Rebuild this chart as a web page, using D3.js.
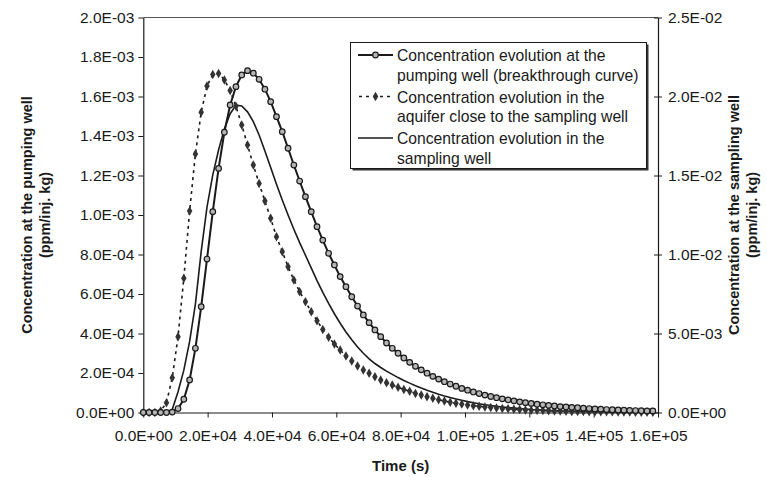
<!DOCTYPE html>
<html>
<head>
<meta charset="utf-8">
<script src="https://cdn.jsdelivr.net/npm/d3@7"></script>
<style>
    body { margin: 0; background: #fff; }
    svg { font-family: "Liberation Sans", Arial, sans-serif; }
</style>
</head>
<body>
<svg id="chart"></svg>
<script>
// time (s), one point every half hour
const timeS = [0, 1800, 3600, 5400, 7200, 9000, 10800, 12600, 14400, 16200,
    18000, 19800, 21600, 23400, 25200, 27000, 28800, 30600, 32400, 34200,
    36000, 37800, 39600, 41400, 43200, 45000, 46800, 48600, 50400, 52200,
    54000, 55800, 57600, 59400, 61200, 63000, 64800, 66600, 68400, 70200,
    72000, 73800, 75600, 77400, 79200, 81000, 82800, 84600, 86400, 88200,
    90000, 91800, 93600, 95400, 97200, 99000, 100800, 102600, 104400, 106200,
    108000, 109800, 111600, 113400, 115200, 117000, 118800, 120600, 122400, 124200,
    126000, 127800, 129600, 131400, 133200, 135000, 136800, 138600, 140400, 142200,
    144000, 145800, 147600, 149400, 151200, 153000, 154800, 156600, 158400];

// concentrations, in 1E-03 ppm/inj. kg
// pumping well -> left axis
const pumpingWell = [0, 0, 0, 0, 0, 0.002, 0.02, 0.067, 0.165, 0.325,
    0.536, 0.777, 1.017, 1.236, 1.419, 1.557, 1.65, 1.709, 1.731, 1.718,
    1.687, 1.637, 1.574, 1.498, 1.422, 1.338, 1.253, 1.172, 1.093, 1.017,
    0.941, 0.873, 0.806, 0.747, 0.688, 0.637, 0.586, 0.539, 0.494, 0.455,
    0.418, 0.384, 0.352, 0.325, 0.300, 0.276, 0.254, 0.234, 0.216, 0.199,
    0.183, 0.169, 0.156, 0.144, 0.133, 0.122, 0.113, 0.104, 0.096, 0.088,
    0.081, 0.075, 0.069, 0.064, 0.059, 0.054, 0.050, 0.046, 0.042, 0.039,
    0.036, 0.033, 0.030, 0.028, 0.026, 0.024, 0.022, 0.020, 0.018, 0.017,
    0.015, 0.014, 0.013, 0.012, 0.011, 0.010, 0.009, 0.008, 0.008];

// aquifer close to the sampling well -> right axis
const aquiferNearWell = [0, 0, 0, 0.1, 0.62, 2.2, 4.8, 8.5, 12.75, 16.36,
    19.0, 20.66, 21.4, 21.46, 21.05, 20.38, 19.38, 18.2, 16.93, 15.66,
    14.5, 13.38, 12.29, 11.13, 10.18, 9.23, 8.39, 7.65, 7.01, 6.38,
    5.81, 5.26, 4.76, 4.34, 3.95, 3.58, 3.26, 2.94, 2.69, 2.48,
    2.26, 2.06, 1.89, 1.74, 1.60, 1.46, 1.34, 1.21, 1.11, 1.00,
    0.90, 0.80, 0.73, 0.65, 0.59, 0.53, 0.48, 0.43, 0.39, 0.35,
    0.31, 0.28, 0.25, 0.23, 0.20, 0.19, 0.16, 0.15, 0.14, 0.13,
    0.11, 0.10, 0.09, 0.08, 0.07, 0.07, 0.06, 0.05, 0.05, 0.04,
    0.04, 0.04, 0.03, 0.03, 0.03, 0.02, 0.02, 0.02, 0.02];

// sampling well -> right axis
const samplingWell = [0, 0, 0, 0, 0, 0.19, 1.31, 2.68, 4.50, 6.86,
    10.2, 13.0, 15.04, 16.61, 17.95, 18.91, 19.46, 19.40, 19.03, 18.41,
    17.56, 16.55, 15.5, 14.45, 13.45, 12.5, 11.6, 10.75, 9.95, 9.15,
    8.35, 7.6, 6.9, 6.25, 5.65, 5.1, 4.6, 4.15, 3.75, 3.4,
    3.1, 2.85, 2.62, 2.41, 2.21, 2.03, 1.86, 1.70, 1.55, 1.41,
    1.28, 1.16, 1.05, 0.95, 0.86, 0.77, 0.69, 0.62, 0.55, 0.49,
    0.44, 0.39, 0.35, 0.31, 0.28, 0.25, 0.22, 0.19, 0.17, 0.15,
    0.13, 0.12, 0.10, 0.09, 0.08, 0.07, 0.06, 0.06, 0.05, 0.05,
    0.04, 0.04, 0.03, 0.03, 0.03, 0.02, 0.02, 0.02, 0.01];

const xTicks = [0, 20000, 40000, 60000, 80000, 100000, 120000, 140000, 160000];
const xTickLabels = ["0.0E+00", "2.0E+04", "4.0E+04", "6.0E+04", "8.0E+04",
    "1.0E+05", "1.2E+05", "1.4E+05", "1.6E+05"];
const yLeftTicks = [0, 0.2, 0.4, 0.6, 0.8, 1.0, 1.2, 1.4, 1.6, 1.8, 2.0];
const yLeftTickLabels = ["0.0E+00", "2.0E-04", "4.0E-04", "6.0E-04", "8.0E-04",
    "1.0E-03", "1.2E-03", "1.4E-03", "1.6E-03", "1.8E-03", "2.0E-03"];
const yRightTicks = [0, 5, 10, 15, 20, 25];
const yRightTickLabels = ["0.0E+00", "5.0E-03", "1.0E-02", "1.5E-02", "2.0E-02", "2.5E-02"];

const legendLabels = [
    ["Concentration evolution at the", "pumping well (breakthrough curve)"],
    ["Concentration evolution in the", "aquifer close to the sampling well"],
    ["Concentration evolution in the", "sampling well"]
];

const ink = "#1a1a1a";
const W = 767, H = 477;
const plot = { left: 143.3, right: 658, top: 17.5, bottom: 412.5 };

const svg = d3.select("#chart").attr("width", W).attr("height", H);
svg.append("rect").attr("width", W).attr("height", H).attr("fill", "#fff");

const x = d3.scaleLinear().domain([0, 160000]).range([plot.left, plot.right]);
const yL = d3.scaleLinear().domain([0, 2.0]).range([plot.bottom, plot.top]);
const yR = d3.scaleLinear().domain([0, 25]).range([plot.bottom, plot.top]);

const rows = timeS.map((t, i) => ({
    t: t, pump: pumpingWell[i], aq: aquiferNearWell[i], samp: samplingWell[i]
}));

//рамка области построения (верх)
svg.append("line")
    .attr("x1", plot.left).attr("x2", plot.right)
    .attr("y1", plot.top).attr("y2", plot.top)
    .attr("stroke", "#555").attr("stroke-width", 1);

//ось ox
const gx = svg.append("g")
    .attr("transform", `translate(0,${plot.bottom})`)
    .call(d3.axisBottom(x).tickValues(xTicks)
        .tickFormat((d, i) => xTickLabels[i]).tickSize(5).tickSizeOuter(0).tickPadding(12));

//ось oy слева
const gyl = svg.append("g")
    .attr("transform", `translate(${plot.left},0)`)
    .call(d3.axisLeft(yL).tickValues(yLeftTicks)
        .tickFormat((d, i) => yLeftTickLabels[i]).tickSize(5).tickSizeOuter(0).tickPadding(4));

//ось oy справа
const gyr = svg.append("g")
    .attr("transform", `translate(${plot.right},0)`)
    .call(d3.axisRight(yR).tickValues(yRightTicks)
        .tickFormat((d, i) => yRightTickLabels[i]).tickSize(4).tickSizeOuter(0).tickPadding(6));
gyr.selectAll(".tick line").attr("x1", -4);

[gx, gyl, gyr].forEach(g => {
    g.select(".domain").attr("stroke", ink).attr("stroke-width", 1.2);
    g.selectAll(".tick line").attr("stroke", ink);
    g.selectAll("text").style("font-size", "15.5px").style("fill", ink)
        .style("font-family", "'Liberation Sans', Arial, sans-serif");
});

//подписи осей
svg.append("text")
    .attr("x", (plot.left + plot.right) / 2).attr("y", 471)
    .attr("text-anchor", "middle")
    .style("font-size", "15px").style("font-weight", "bold").style("fill", ink)
    .text("Time (s)");

function axisTitle(cx, lines) {
    lines.forEach((s, i) => {
        svg.append("text")
            .attr("transform", `translate(${cx[i]},${(plot.top + plot.bottom) / 2}) rotate(-90)`)
            .attr("text-anchor", "middle")
            .attr("dy", "0.35em")
            .style("font-size", "14.5px").style("font-weight", "bold").style("fill", ink)
            .text(s);
    });
}
axisTitle([27, 45], ["Concentration at the pumping well", "(ppm/inj. kg)"]);
axisTitle([734, 752], ["Concentration at the sampling well", "(ppm/inj. kg)"]);

//кривые
const linePump = d3.line().x(d => x(d.t)).y(d => yL(d.pump));
const lineAq = d3.line().x(d => x(d.t)).y(d => yR(d.aq));
const lineSamp = d3.line().x(d => x(d.t)).y(d => yR(d.samp));

svg.append("path").datum(rows).attr("d", linePump)
    .attr("fill", "none").attr("stroke", ink).attr("stroke-width", 2);
svg.append("path").datum(rows).attr("d", lineAq)
    .attr("fill", "none").attr("stroke", ink).attr("stroke-width", 1.6)
    .attr("stroke-dasharray", "3,4");
svg.append("path").datum(rows).attr("d", lineSamp)
    .attr("fill", "none").attr("stroke", ink).attr("stroke-width", 1.6);

const diamond = d3.symbol().type(d3.symbolDiamond).size(26);

svg.selectAll(".dot-aq")
    .data(rows)
    .enter()
    .append("path")
    .attr("class", "dot-aq")
    .attr("transform", d => `translate(${x(d.t)},${yR(d.aq)})`)
    .attr("d", diamond)
    .attr("fill", "#333");

svg.selectAll(".dot-pump")
    .data(rows)
    .enter()
    .append("circle")
    .attr("class", "dot-pump")
    .attr("cx", d => x(d.t))
    .attr("cy", d => yL(d.pump))
    .attr("r", 2.8)
    .attr("fill", "#b5b5b5")
    .attr("stroke", ink)
    .attr("stroke-width", 1.2);

//легенда
const lg = { x: 350.5, y: 42.5, w: 296, h: 126 };
svg.append("rect")
    .attr("x", lg.x + 2).attr("y", lg.y + 2).attr("width", lg.w).attr("height", lg.h)
    .attr("fill", "#333");
svg.append("rect")
    .attr("x", lg.x).attr("y", lg.y).attr("width", lg.w).attr("height", lg.h)
    .attr("fill", "#fff").attr("stroke", ink).attr("stroke-width", 1);

const entryY = [55, 96.5, 138];
legendLabels.forEach((lines, i) => {
    const cy = entryY[i];
    const l = svg.append("line")
        .attr("x1", 358).attr("x2", 393).attr("y1", cy).attr("y2", cy)
        .attr("stroke", ink).attr("stroke-width", i === 0 ? 2 : 1.6);
    if (i === 1) l.attr("stroke-dasharray", "3,4").attr("stroke-dashoffset", -1);
    if (i === 0) {
        svg.append("circle").attr("cx", 375.5).attr("cy", cy).attr("r", 2.8)
            .attr("fill", "#b5b5b5").attr("stroke", ink).attr("stroke-width", 1.2);
    }
    if (i === 1) {
        svg.append("path").attr("transform", `translate(375.5,${cy})`)
            .attr("d", diamond).attr("fill", "#333");
    }
    lines.forEach((s, j) => {
        svg.append("text")
            .attr("x", 397).attr("y", cy + 6 + j * 19.5)
            .style("font-size", "15.7px").style("fill", ink)
            .text(s);
    });
});
</script>
</body>
</html>
